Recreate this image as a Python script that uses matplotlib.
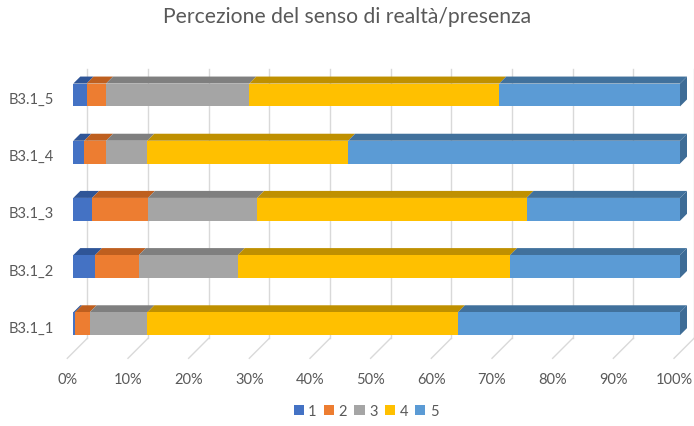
import matplotlib
matplotlib.use("Agg")
import matplotlib.pyplot as plt
from matplotlib.transforms import ScaledTranslation, blended_transform_factory
from matplotlib.patches import Polygon
import numpy as np

plt.rcParams['font.family'] = ['Lato', 'DejaVu Sans']

categories = ["B3.1_1", "B3.1_2", "B3.1_3", "B3.1_4", "B3.1_5"]
series_names = ["1", "2", "3", "4", "5"]
s1 = [0.3, 3.6, 3.1, 1.8, 2.2]
s2 = [2.4, 7.2, 9.2, 3.6, 3.2]
s3 = [9.5, 16.3, 18.0, 6.8, 23.6]
s4 = [51.2, 44.9, 44.4, 33.1, 41.2]
s5 = [36.6, 28.0, 25.3, 54.7, 29.8]
x_ticks = [0, 10, 20, 30, 40, 50, 60, 70, 80, 90, 100]
x_tick_labels = ["0%", "10%", "20%", "30%", "40%", "50%", "60%", "70%", "80%", "90%", "100%"]
title = "Percezione del senso di realtà/presenza"

colors = ["#4472C4", "#ED7D31", "#A5A5A5", "#FFC000", "#5B9BD5"]
top_colors = ["#2F5597", "#BE5F1F", "#7F7F7F", "#BF9000", "#41719C"]
side_color = "#3E6C96"
text_color = "#595959"
grid_color = "#D9D9D9"

W, H = 694, 427
DPI = 100
fig = plt.figure(figsize=(W / DPI, H / DPI), dpi=DPI)
ax = fig.add_axes([73.3 / W, (H - 353.3) / H, 606.7 / W, 285.9 / H])
ax.set_xlim(0, 100)
ax.set_ylim(-0.5, len(categories) - 0.5)
ax.axis("off")

def off(base, dx, dy):
    return base + ScaledTranslation(dx / DPI, dy / DPI, fig.dpi_scale_trans)

bt = blended_transform_factory(ax.transData, ax.transAxes)
BACK = 14
FRONT = -6
DEPTH = 7
grid_top = 0.942

# back wall gridlines and floor diagonals
for t in x_ticks:
    ax.plot([t, t], [0, grid_top], color=grid_color, lw=1.0,
            transform=off(bt, BACK, BACK), zorder=0, clip_on=False)
    p_back = off(bt, BACK, BACK).transform((t, 0))
    p_front = off(bt, FRONT, FRONT).transform((t, 0))
    ax.plot([p_back[0], p_front[0]], [p_back[1], p_front[1]], color=grid_color,
            lw=1.0, transform=None, zorder=0, clip_on=False)

series = [s1, s2, s3, s4, s5]
y = np.arange(len(categories))
h = 0.4
left = np.zeros(len(categories))
for k, vals in enumerate(series):
    vals = np.array(vals)
    ax.barh(y, vals, left=left, height=h, color=colors[k], label=series_names[k],
            zorder=3, linewidth=0)
    # top faces
    for i in range(len(categories)):
        a = ax.transData.transform((left[i], y[i] + h / 2))
        b = ax.transData.transform((left[i] + vals[i], y[i] + h / 2))
        poly = Polygon([a, b, b + DEPTH, a + DEPTH], closed=True, transform=None,
                       facecolor=top_colors[k], edgecolor="none", zorder=2,
                       clip_on=False)
        ax.add_patch(poly)
    left = left + vals

# right side faces
for i in range(len(categories)):
    a = ax.transData.transform((left[i], y[i] - h / 2))
    b = ax.transData.transform((left[i], y[i] + h / 2))
    poly = Polygon([a, b, b + DEPTH, a + DEPTH], closed=True, transform=None,
                   facecolor=side_color, edgecolor="none", zorder=2, clip_on=False)
    ax.add_patch(poly)

# category labels
for i, c in enumerate(categories):
    ax.text(0, y[i], c, transform=off(ax.transData, -19, -4), ha="right", va="center",
            fontsize=10.5, color=text_color)

# x tick labels
for t, lab in zip(x_ticks, x_tick_labels):
    ax.text(t, 0, lab, transform=off(bt, FRONT, -26.7), ha="center", va="center",
            fontsize=10.5, color=text_color)

fig.text(347 / W, 1 - 17 / H, title, ha="center", va="center", fontsize=15.2,
         color=text_color)

handles, labels = ax.get_legend_handles_labels()
fig.legend(handles, labels, loc="center", bbox_to_anchor=(366 / W, 1 - 412 / H), ncol=5,
           frameon=False, handlelength=0.7, handleheight=0.7, handletextpad=0.3,
           columnspacing=0.5, fontsize=10.5, labelcolor=text_color)

fig.savefig("out.png", dpi=DPI)
